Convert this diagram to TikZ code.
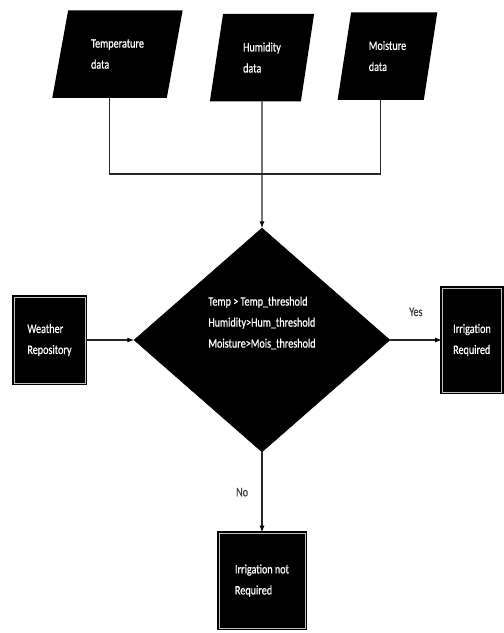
\documentclass[tikz,border=0pt]{standalone}
\usepackage{fontspec}
\setmainfont{Carlito}[FakeStretch=0.78, FakeBold=0.6]
\usetikzlibrary{shapes.geometric}

\begin{document}
\begin{tikzpicture}[>=latex, x=1pt, y=1pt,
  every node/.style={font=\fontsize{13}{21}\selectfont},
  data/.style={trapezium, trapezium stretches=true, fill=black, draw=black, line width=1.5pt,
    text=white, align=left, inner sep=0pt, minimum height=86pt},
  block/.style={rectangle, fill=black, draw=black, double=gray!50, double distance=0.5pt,
    line width=1.8pt, text=white, align=left, inner sep=0pt},
  decision/.style={diamond, fill=black, draw=black, inner sep=0pt,
    minimum width=256pt, minimum height=224pt},
  flow/.style={line width=1.2pt, draw=black!85},
  answer/.style={text=black!75, font=\fontsize{13}{15}\selectfont}]
\useasboundingbox (0,0) rectangle (504,-633);

% decision in the middle, everything else around it
\node[name=cond, decision, label={[text=white, align=left, yshift=17pt]center:{Temp > Temp\_threshold\\Humidity>Hum\_threshold\\Moisture>Mois\_threshold}}] at (262,-340) {};
\node[name=hum, data, above of=cond, node distance=282.5pt, minimum width=103pt,
  trapezium left angle=78, trapezium right angle=102]{Humidity\\data};
\node[name=temp, data, left of=hum, node distance=144.5pt, yshift=3.5pt, minimum width=129pt,
  trapezium left angle=74, trapezium right angle=106]{Temperature\\data};
\node[name=mois, data, right of=hum, node distance=125.5pt, yshift=1.5pt, minimum width=98pt,
  trapezium left angle=77, trapezium right angle=103]{Moisture\\data};
\coordinate[name=join, below of=hum, node distance=116.5pt];
\node[name=weather, block, left of=cond, node distance=212.5pt, minimum width=71pt, minimum height=86pt]{Weather\\Repository};
\node[name=yes, block, right of=cond, node distance=210pt, minimum width=59pt, minimum height=104pt]{Irrigation\\Required};
\node[name=no, block, below of=cond, node distance=240.5pt, minimum width=86pt, minimum height=95pt]{Irrigation not\\Required};

\draw[flow](temp.bottom side) |- (join);
\draw[flow](mois.bottom side) |- (join);
\draw[flow](hum.south) edge[->](cond.north);
\draw[flow](weather.east) edge[->](cond.west);
\draw[flow](cond.east) edge[->]node[answer, above=20pt]{Yes}(yes.west);
\draw[flow](cond.south) edge[->]node[answer, left=10pt]{No}(no.north);
\end{tikzpicture}
\end{document}
